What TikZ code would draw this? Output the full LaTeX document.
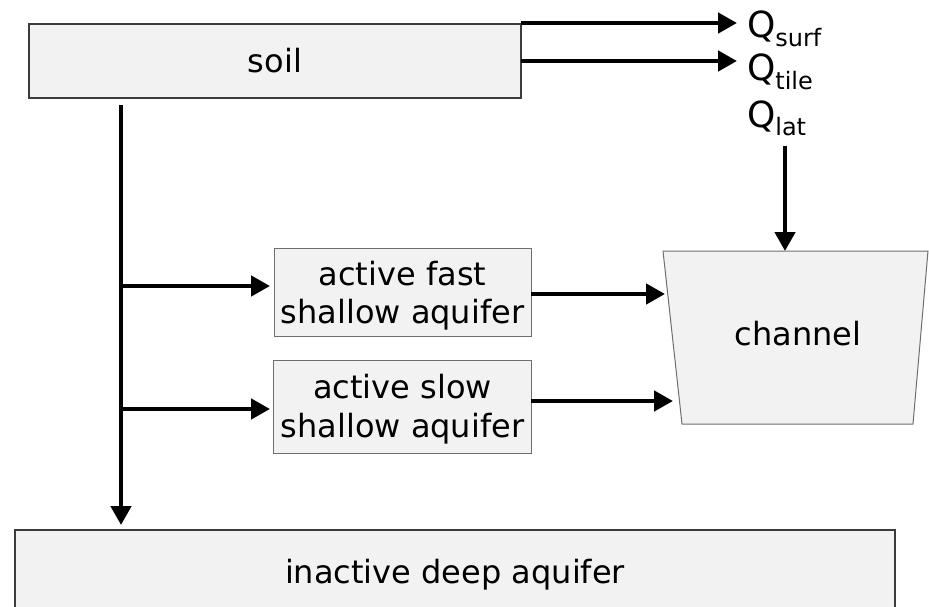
\documentclass[tikz,border=0pt]{standalone}
\usepackage{fontspec}
\setmainfont{DejaVu Sans}
\usetikzlibrary{arrows.meta,calc}
\definecolor{boxfill}{RGB}{242,242,242}
\definecolor{edgedark}{RGB}{60,60,60}
\definecolor{edgegray}{RGB}{110,110,110}
\begin{document}
\begin{tikzpicture}[x=1pt,y=-1pt,
  every node/.style={inner sep=0pt,outer sep=0pt},
  txt/.style={font=\fontsize{32}{38.5}\selectfont},
  boxdark/.style={draw=edgedark,line width=1.3pt,fill=boxfill,txt},
  boxlight/.style={draw=edgegray,line width=1pt,fill=boxfill},
  twoline/.style={txt,align=center,anchor=base},
  arr/.style={line width=4.5pt,-{Triangle[length=19pt,width=20pt]}},
  qlabel/.style={anchor=base west,font=\fontsize{36}{36}\selectfont},
]
\useasboundingbox (0,0) rectangle (929,607);
\begin{scope}
\clip (0,0) rectangle (929,607);
% boxes
\node[boxdark,minimum width=492pt,minimum height=74pt] (soil) at (275,61) {soil};
\node[boxdark,minimum width=880pt,minimum height=100pt] (deep) at (455,580) {};
\node[txt,anchor=base] (deeptxt) at (455,583) {inactive deep aquifer};
\node[boxlight,minimum width=257pt,minimum height=88pt] (fast) at (402.5,292) {};
\node[twoline] (fasttxt) at (402.5,323.5) {active fast\\shallow aquifer};
\node[boxlight,minimum width=258pt,minimum height=93pt] (slow) at (402,406.5) {};
\node[twoline] (slowtxt) at (402.5,437) {active slow\\shallow aquifer};
% channel
\coordinate (c1) at (663,251);
\coordinate (c2) at (928,251);
\coordinate (c3) at (913,424);
\coordinate (c4) at (682,424);
\draw[draw=edgegray,line width=1pt,fill=boxfill] (c1) -- (c2) -- (c3) -- (c4) -- cycle;
\node[txt,anchor=base] (channel) at (798,345) {channel};
% Q labels
\node[qlabel] (qsurf) at (747,38) {Q{\fontsize{24}{24}\selectfont\raisebox{-9pt}{surf}}};
\node[qlabel] (qtile) at (747,81) {Q{\fontsize{24}{24}\selectfont\raisebox{-9pt}{tile}}};
\node[qlabel] (qlat) at (747,128) {Q{\fontsize{24}{24}\selectfont\raisebox{-8pt}{lat}}};
% coordinates
\coordinate (qsurfin) at (737,23);
\coordinate (qtilein) at (737,61);
\coordinate (chtop) at (785,251);
\coordinate (chinA) at (665,294);
\coordinate (chinB) at (673,401);
\coordinate (tr) at (121,0);
\coordinate (br1) at (121,286);
\coordinate (br2) at (121,409);
% connectors
\draw[arr] (soil.east |- qsurfin) -- (qsurfin);
\draw[arr] (soil.east |- qtilein) -- (qtilein);
\draw[arr] ([yshift=-10pt]qlat.south -| chtop) -- (chtop);
\draw[arr] ([yshift=-7pt]soil.south -| tr) -- ([yshift=5pt]deep.north -| tr);
\draw[arr,shorten >=4pt] (br1) -- (br1 -| fast.west);
\draw[arr,shorten >=3pt] (br2) -- (br2 -| slow.west);
\draw[arr] (fast.east |- chinA) -- (chinA);
\draw[arr] (slow.east |- chinB) -- (chinB);
\end{scope}
\end{tikzpicture}
\end{document}
